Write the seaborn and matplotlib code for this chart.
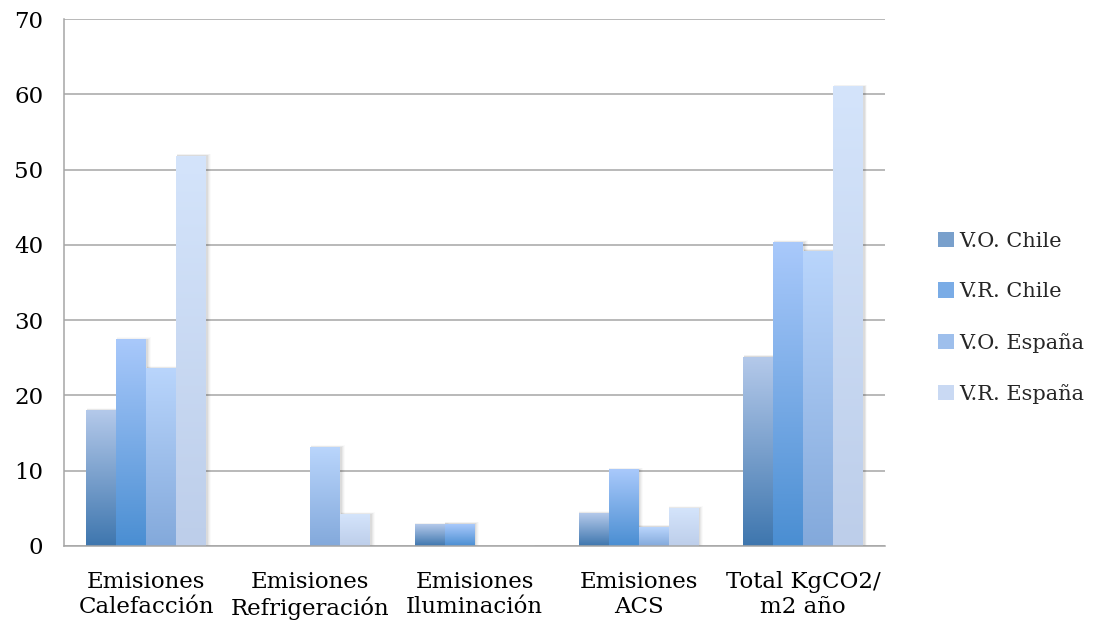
import numpy as np
import pandas as pd
import matplotlib
matplotlib.use("Agg")
import matplotlib.pyplot as plt
from matplotlib.patches import Patch, Rectangle
from matplotlib.colors import to_rgb
import seaborn as sns

categories = ["Emisiones\nCalefacción", "Emisiones\nRefrigeración",
              "Emisiones\nIluminación", "Emisiones\nACS", "Total KgCO2/\nm2 año"]
series = ["V.O. Chile", "V.R. Chile", "V.O. España", "V.R. España"]
vo_chile = [18.0, 0.0, 2.8, 4.3, 25.1]
vr_chile = [27.4, 0.0, 2.9, 10.1, 40.3]
vo_espana = [23.6, 13.1, 0.0, 2.5, 39.2]
vr_espana = [51.8, 4.2, 0.0, 5.0, 61.0]
y_ticks = [0, 10, 20, 30, 40, 50, 60, 70]

# gradient end colours per series (bottom, top)
grad_bottom = ["#3E76AE", "#4A8ED2", "#83A9DB", "#BDCEEA"]
grad_top = ["#B4C9EA", "#A9C9FB", "#B9D5FC", "#D4E4FB"]

df = pd.DataFrame({
    "Categoria": categories * 4,
    "Serie": np.repeat(series, len(categories)),
    "Valor": vo_chile + vr_chile + vo_espana + vr_espana,
})

sns.set_theme(style="white")
plt.rcParams["font.family"] = ["DejaVu Serif"]

fig = plt.figure(figsize=(10.94, 6.26), dpi=100)
ax = fig.add_axes([0.0585, 0.128, 0.7505, 0.8415])

sns.barplot(data=df, x="Categoria", y="Valor", hue="Serie", order=categories,
            hue_order=series, width=0.73, gap=0, legend=False, ax=ax,
            palette=grad_bottom, saturation=1)

ax.set_xlim(-0.5, len(categories) - 0.5)
ax.set_ylim(0, 70)

# vertical gradient fill plus a soft shadow on every bar
for i, cont in enumerate(ax.containers):
    c0 = np.array(to_rgb(grad_bottom[i]))
    c1 = np.array(to_rgb(grad_top[i]))
    t = np.linspace(0, 1, 256)[:, None]
    img = (c0[None, :] * (1 - t) + c1[None, :] * t)[:, None, :]
    for bar in cont.patches:
        h = bar.get_height()
        if h <= 0:
            continue
        x = bar.get_x()
        w = bar.get_width()
        bar.set_facecolor("none")
        bar.set_edgecolor("none")
        for k, a in enumerate([0.05, 0.04, 0.03, 0.02]):
            dx = 0.006 * (k + 1)
            ax.add_patch(Rectangle((x + 0.004, 0), w + dx, h + 0.075 * (k + 1),
                                   facecolor="#000000", alpha=a, edgecolor="none",
                                   zorder=1.5 + i * 0.01))
        ax.imshow(img, extent=[x, x + w, 0, h], origin="lower", aspect="auto",
                  zorder=2 + i * 0.01, interpolation="bilinear")

ax.set_xlim(-0.5, len(categories) - 0.5)
ax.set_ylim(0, 70)
ax.set_aspect("auto")

grid_c = "#A6A6A6"
ax.set_yticks(y_ticks)
ax.yaxis.grid(True, color=grid_c, linewidth=1.1)
ax.set_axisbelow(True)
for s in ["top", "right"]:
    ax.spines[s].set_visible(False)
for s in ["left", "bottom"]:
    ax.spines[s].set_color(grid_c)
    ax.spines[s].set_linewidth(1.1)

ax.set_xticks(range(len(categories)))
ax.set_xticklabels(categories, fontsize=16.5, linespacing=1.2)
ax.set_xticks(np.arange(-0.5, len(categories), 1.0), minor=True)
ax.tick_params(axis="x", which="major", length=0, pad=18, colors="black")
ax.tick_params(axis="x", which="minor", length=7, width=1.1, color=grid_c, direction="out")
ax.tick_params(axis="y", length=7, width=1.1, color=grid_c, direction="out",
               labelsize=16.5, pad=8, labelcolor="black")
ax.set_xlabel("")
ax.set_ylabel("")

handles = [Patch(facecolor=((np.array(to_rgb(b)) + np.array(to_rgb(t))) / 2),
                 edgecolor="none") for b, t in zip(grad_bottom, grad_top)]
fig.legend(handles, series, loc="center left", bbox_to_anchor=(0.848, 0.492),
           frameon=False, fontsize=15, handlelength=0.75, handleheight=0.75,
           handletextpad=0.25, labelspacing=1.5, borderpad=0)

fig.savefig("out.png", dpi=100)
